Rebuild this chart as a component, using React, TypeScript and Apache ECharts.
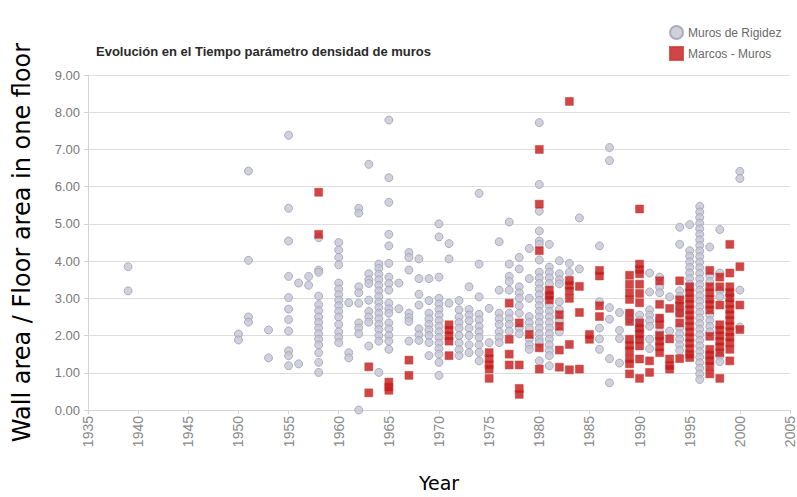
import React, { useEffect, useRef } from "react";
import * as echarts from "echarts";

const yearTicks = { min: 1935, max: 2005, interval: 5 };
const valueTicks = { min: 0, max: 9, interval: 1 };

// Muros de Rigidez (grey circles): [year, values]
const rigidez: [number, number[]][] = [
  [1939, [3.85, 3.2]],
  [1950, [2.04, 1.88]],
  [1951, [6.42, 4.02, 2.5, 2.36]],
  [1953, [2.15, 1.4]],
  [1955, [7.38, 5.42, 4.54, 3.59, 3.02, 2.71, 2.43, 2.12, 1.59, 1.46, 1.19]],
  [1956, [3.41, 1.24]],
  [1957, [3.59, 3.35]],
  [1958, [4.63, 3.76, 3.7, 3.06, 2.83, 2.67, 2.5, 2.35, 2.2, 2.05, 1.9, 1.75, 1.54, 1.28, 1.01]],
  [1960, [4.5, 4.3, 4.1, 3.9, 3.41, 3.25, 3.1, 2.95, 2.8, 2.65, 2.5, 2.3, 2.1, 1.95, 1.81]],
  [1961, [2.88, 1.54, 1.4]],
  [1962, [5.42, 5.29, 3.31, 3.15, 2.87, 2.34, 2.2, 2.05, 0.0]],
  [1963, [6.6, 3.66, 3.5, 3.4, 2.95, 2.65, 2.5, 2.36, 1.72]],
  [1964, [3.92, 3.8, 3.65, 3.5, 3.35, 3.2, 3.05, 2.9, 2.75, 2.6, 2.45, 2.3, 2.16, 2.0, 1.85, 1.01]],
  [1965, [7.79, 6.24, 5.58, 4.72, 4.41, 3.94, 3.57, 3.4, 3.22, 2.87, 2.72, 2.6, 2.34, 2.18, 2.0, 1.85, 1.63]],
  [1966, [3.41, 2.72]],
  [1967, [4.23, 4.1, 3.76, 2.6, 2.48, 2.38, 1.85]],
  [1968, [4.06, 3.53, 3.11, 2.82, 2.18, 2.02, 1.87]],
  [1969, [3.53, 2.94, 2.6, 2.45, 2.3, 2.15, 2.0, 1.81, 1.46]],
  [1970, [5.0, 4.65, 3.57, 3.0, 2.85, 2.7, 2.55, 2.4, 2.25, 2.1, 1.95, 1.8, 1.65, 1.5, 1.28, 0.93]],
  [1971, [4.47, 4.06, 2.87]],
  [1972, [2.94, 2.69, 2.5, 2.35, 2.2, 2.0, 1.8, 1.62, 1.46]],
  [1973, [3.31, 2.7, 2.55, 2.4, 2.2, 2.0, 1.75, 1.54]],
  [1974, [5.82, 3.92, 3.04, 2.57, 2.42, 2.25, 2.1, 1.95, 1.75, 1.55, 1.32]],
  [1975, [2.73, 1.81]],
  [1976, [4.52, 3.22, 2.6, 2.45, 2.3, 2.1, 1.95, 1.81]],
  [1977, [5.05, 3.92, 3.59, 3.45, 3.22, 2.6, 2.45, 2.3, 2.12]],
  [1978, [4.1, 3.79, 3.31, 3.15, 3.0, 2.8, 2.6, 2.2, 2.05]],
  [1979, [4.34, 3.53, 3.0, 2.51, 2.35, 2.2, 1.9, 1.75, 1.63]],
  [1980, [7.72, 6.06, 5.34, 4.81, 4.54, 4.45, 4.03, 3.7, 3.55, 3.4, 3.25, 3.1, 2.95, 2.8, 2.65, 2.5, 2.35, 2.2, 2.05, 1.9, 1.81, 1.32]],
  [1981, [4.45, 3.84, 3.7, 3.55, 3.4, 3.1, 2.8, 2.65, 2.5, 2.35, 2.2, 2.05, 1.9, 1.75, 1.6, 1.46, 1.19]],
  [1982, [4.01, 3.66, 3.5, 3.39, 2.91, 2.7, 2.4, 2.1]],
  [1983, [3.94, 3.7]],
  [1984, [5.16, 3.79]],
  [1986, [4.41, 2.91, 2.2, 1.91, 1.63]],
  [1987, [7.05, 6.7, 2.75, 2.44, 1.38, 0.73]],
  [1988, [2.62, 2.14, 1.92, 1.26]],
  [1989, [2.6, 2.45]],
  [1990, [2.55, 2.4, 2.2, 2.05, 1.9]],
  [1991, [3.68, 3.17, 2.69, 2.55, 2.4, 2.25, 1.9, 1.65]],
  [1992, [3.57, 3.3, 3.15, 2.45, 2.1, 1.95]],
  [1993, [3.04, 2.12]],
  [1994, [4.91, 4.45, 3.2, 3.05, 2.75, 2.6, 2.2, 2.05, 1.9, 1.75, 1.6]],
  [1995, [4.98, 4.28, 4.13, 3.98, 3.83, 3.68, 3.53, 3.38, 3.22]],
  [1996, [5.47, 5.32, 5.17, 5.02, 4.87, 4.72, 4.57, 4.42, 4.27, 4.12, 3.97, 3.82, 3.67, 3.52, 3.37, 3.22, 3.07, 2.92, 2.77, 2.62, 2.47, 2.32, 2.17, 2.02, 1.87, 1.72, 1.57, 1.42, 1.27, 1.12, 0.97, 0.82]],
  [1997, [4.38, 3.6, 3.45, 2.55, 2.4, 2.25, 2.1, 1.5, 1.35]],
  [1998, [4.85, 3.68, 3.2, 3.05, 1.45, 1.3]],
  [1999, [3.1]],
  [2000, [6.41, 6.22, 3.22, 2.23]],
];

// Marcos - Muros (red squares): [year, values]
const marcos: [number, number[]][] = [
  [1958, [5.85, 4.72]],
  [1963, [1.16, 0.46]],
  [1965, [0.75, 0.62, 0.53]],
  [1967, [1.34, 0.93]],
  [1971, [2.29, 2.15, 2.0, 1.85, 1.46]],
  [1975, [1.54, 1.38, 1.22, 1.1, 0.85]],
  [1977, [2.87, 1.9, 1.5, 1.21]],
  [1978, [2.34, 1.21, 0.58, 0.42]],
  [1979, [2.03]],
  [1980, [7.0, 5.53, 4.28, 1.67, 1.1]],
  [1981, [3.22, 3.08, 2.96]],
  [1982, [2.56, 2.25, 1.61, 1.15]],
  [1983, [8.29, 3.48, 3.35, 3.2, 3.0, 1.76, 1.08]],
  [1984, [3.32, 2.62, 1.1]],
  [1985, [2.03, 1.9]],
  [1986, [3.75, 3.6, 2.8, 2.51]],
  [1989, [3.62, 3.38, 3.15, 2.97, 2.6, 2.38, 1.9, 1.74, 1.59, 1.38, 1.24, 0.97]],
  [1990, [5.4, 3.92, 3.78, 3.66, 3.38, 3.13, 2.88, 2.34, 2.2, 2.05, 1.9, 1.72, 1.37, 0.85]],
  [1991, [1.32, 1.01]],
  [1992, [3.47, 2.84, 2.47, 2.3, 2.0, 1.85, 1.7, 1.54]],
  [1993, [2.73, 1.91, 1.37, 1.2, 1.1]],
  [1994, [3.47, 2.96, 2.8, 2.6, 2.34, 1.38]],
  [1995, [3.31, 3.15, 3.0, 2.85, 2.7, 2.55, 2.4, 2.25, 2.1, 1.95, 1.8, 1.65, 1.5, 1.41]],
  [1997, [3.75, 3.31, 3.15, 2.98, 2.84, 2.69, 1.98, 1.63, 1.48, 1.33, 1.18, 0.97]],
  [1998, [3.57, 3.31, 2.82, 2.29, 2.15, 2.0, 1.85, 1.7, 1.54, 0.85]],
  [1999, [4.45, 3.68, 3.31, 3.16, 3.01, 2.86, 2.71, 2.56, 2.41, 2.26, 2.11, 1.96, 1.81, 1.63, 1.32]],
  [2000, [3.85, 2.82, 2.16]],
];

const flatten = (cols: [number, number[]][]) =>
  cols.flatMap(([yr, vals]) => vals.map((v) => [yr, v]));

export default function App() {
  const ref = useRef<HTMLDivElement>(null);
  useEffect(() => {
    if (!ref.current) return;
    const chart = echarts.init(ref.current, null, { renderer: "svg" });
    const labelFont = "'Liberation Sans', Arial, sans-serif";
    chart.setOption({
      animation: false,
      backgroundColor: "#ffffff",
      title: {
        text: "Evolución en el Tiempo parámetro densidad de muros",
        left: 91,
        top: 40,
        textStyle: { fontSize: 13, fontWeight: "bold", color: "#2a2a2a", fontFamily: labelFont },
      },
      legend: {
        orient: "vertical",
        left: 664,
        top: 20,
        itemGap: 6,
        itemWidth: 13,
        itemHeight: 13,
        textStyle: { fontSize: 12, color: "#6a6a6a", fontFamily: labelFont },
        data: [
          { name: "Muros de Rigidez", icon: "circle" },
          { name: "Marcos - Muros", icon: "rect" },
        ],
      },
      grid: { left: 88, right: 6, top: 75, bottom: 82 },
      xAxis: {
        type: "value",
        min: yearTicks.min,
        max: yearTicks.max,
        interval: yearTicks.interval,
        name: "Year",
        nameLocation: "middle",
        nameGap: 63,
        nameTextStyle: { fontSize: 19, color: "#000", fontFamily: "'DejaVu Sans', sans-serif" },
        axisLine: { show: true, lineStyle: { color: "#d4d4d4" } },
        axisTick: { show: true, length: 4, lineStyle: { color: "#d4d4d4" } },
        splitLine: { show: false },
        axisLabel: {
          rotate: 90,
          margin: 6,
          fontSize: 14,
          color: "#8a8a8a",
          fontFamily: labelFont,
          formatter: (v: number) => String(v),
        },
      },
      yAxis: {
        type: "value",
        min: valueTicks.min,
        max: valueTicks.max,
        interval: valueTicks.interval,
        name: "Wall area / Floor area in one floor",
        nameLocation: "middle",
        nameGap: 54,
        nameRotate: 90,
        nameTextStyle: { fontSize: 24, color: "#000", fontFamily: "'DejaVu Sans', sans-serif" },
        axisLine: { show: true, lineStyle: { color: "#d4d4d4" } },
        axisTick: { show: true, length: 4, lineStyle: { color: "#d4d4d4" } },
        splitLine: { show: true, lineStyle: { color: "#dedede" } },
        axisLabel: {
          margin: 8,
          fontSize: 13,
          color: "#7a7a7a",
          fontFamily: labelFont,
          formatter: (v: number) => v.toFixed(2),
        },
      },
      series: [
        {
          name: "Muros de Rigidez",
          type: "scatter",
          symbol: "circle",
          symbolSize: 8,
          itemStyle: { color: "#c6c6d6", borderColor: "#a0a0b4", borderWidth: 1 },
          data: flatten(rigidez),
        },
        {
          name: "Marcos - Muros",
          type: "scatter",
          symbol: "rect",
          symbolSize: 8,
          itemStyle: { color: "#c4171a", borderColor: "#cf3a2a", borderWidth: 0.6 },
          data: flatten(marcos),
        },
      ],
    });
    return () => chart.dispose();
  }, []);
  return (
    <div
      ref={ref}
      style={{ position: "fixed", left: 0, top: 0, width: 797, height: 497 }}
    />
  );
}
